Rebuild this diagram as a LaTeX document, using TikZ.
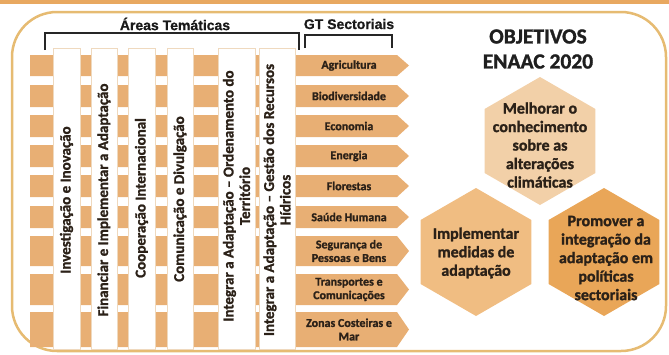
\documentclass[tikz,border=0pt]{standalone}
\usepackage{fontspec}
\setmainfont{Carlito}[BoldFont={Carlito Bold}, BoldFeatures={FakeBold=1.3}]
\newfontfamily\hfont{Liberation Sans}[BoldFont={Liberation Sans Bold}, BoldFeatures={FakeBold=0.8}]
\definecolor{stripec}{HTML}{E8AF74}
\definecolor{topc}{HTML}{E8A860}
\definecolor{framec}{HTML}{E6BB72}
\definecolor{colborder}{HTML}{EFD9BE}
\definecolor{hexone}{HTML}{F2D0A8}
\definecolor{hextwo}{HTML}{F0BD82}
\definecolor{hexthree}{HTML}{E9A658}
\definecolor{txt}{HTML}{2B2118}
\tikzset{
 band/.style={fill=stripec},
 colbox/.style={fill=white, draw=colborder, line width=0.6pt},
 coltext/.style={rotate=90, font=\bfseries\fontsize{15}{16.5}\selectfont, text=txt, align=center, inner sep=0pt},
 gttext/.style={font=\bfseries\fontsize{12}{13.5}\selectfont, text=txt, align=center, inner sep=0pt},
 hextext/.style={font=\bfseries\fontsize{16}{18.5}\selectfont, text=txt, align=center, inner sep=0pt},
 head/.style={font=\hfont\bfseries\fontsize{14}{16}\selectfont, text=black!90, inner sep=0pt},
 brk/.style={draw=black!85, line width=1.4pt},
}
\begin{document}
\begin{tikzpicture}[x=1pt,y=-1pt]
\useasboundingbox (0,0) rectangle (669,354);
% top band and frame
\fill[topc] (0,0) rectangle (669,3.5);
\draw[framec, line width=2.5pt, rounded corners=45pt] (12,12) rectangle (666,351);
% stripes with arrow heads
\foreach \t/\b in {55/76,85/107,115/137,145/167,175/197,206/228,236/266,274/305,312/347}{
  \fill[band] (30,\t) -- (397,\t) -- (409,{(\t+\b)/2}) -- (397,\b) -- (30,\b) -- cycle;
}
% columns
\foreach \l/\r in {53/80,91/117,128/155,167/193,218/255,259/295}{
  \draw[colbox] (\l,48) rectangle (\r,349);
}
% column texts
\node[coltext] (a1) at (66.5,200) {Investigação e Inovação};
\node[coltext] (a2) at (104,200) {Financiar e Implementar a Adaptação};
\node[coltext] (a3) at (141.5,198) {Cooperação Internacional};
\node[coltext] (a4) at (180,199) {Comunicação e Divulgação};
\node[coltext] (a5) at (236.5,196) {Integrar a Adaptação – Ordenamento do\\Território};
\node[coltext] (a6) at (277,200) {Integrar a Adaptação – Gestão dos Recursos\\Hídricos};
% GT texts
\node[gttext] (g1) at (349,65.5) {Agricultura};
\node[gttext] (g2) at (349,96) {Biodiversidade};
\node[gttext] (g3) at (349,126) {Economia};
\node[gttext] (g4) at (349,156) {Energia};
\node[gttext] (g5) at (349,186) {Florestas};
\node[gttext] (g6) at (349,217) {Saúde Humana};
\node[gttext] (g7) at (349,251) {Segurança de\\Pessoas e Bens};
\node[gttext] (g8) at (349,289.5) {Transportes e\\Comunicações};
\node[gttext] (g9) at (349,329.5) {Zonas Costeiras e\\Mar};
% headers and brackets
\node[head] (ha) at (175,24) {Áreas Temáticas};
\node[head] (hg) at (349,24) {GT Sectoriais};
\draw[brk] (45,50) -- (45,33) -- (299,33) -- (299,50);
\draw[brk] (305,48) -- (305,35) -- (392,35) -- (392,48);
% objectives
\node[font=\bfseries\fontsize{21.5}{25}\selectfont, text=black!88, align=center, inner sep=0pt] (obj) at (538,49) {OBJETIVOS\\ENAAC 2020};
\fill[hexone] (540,141) +(30:64) -- +(90:64) -- +(150:64) -- +(210:64) -- +(270:64) -- +(330:64) -- cycle;
\fill[hextwo] (476,252) +(30:64) -- +(90:64) -- +(150:64) -- +(210:64) -- +(270:64) -- +(330:64) -- cycle;
\fill[hexthree] (604,252) +(30:64) -- +(90:64) -- +(150:64) -- +(210:64) -- +(270:64) -- +(330:64) -- cycle;
\node[hextext] (o1) at (540,145) {Melhorar o\\conhecimento\\sobre as\\alterações\\climáticas};
\node[hextext] (o2) at (476,253) {Implementar\\medidas de\\adaptação};
\node[hextext] (o3) at (606,258) {Promover a\\integração da\\adaptação em\\políticas\\sectoriais};
\end{tikzpicture}
\end{document}
